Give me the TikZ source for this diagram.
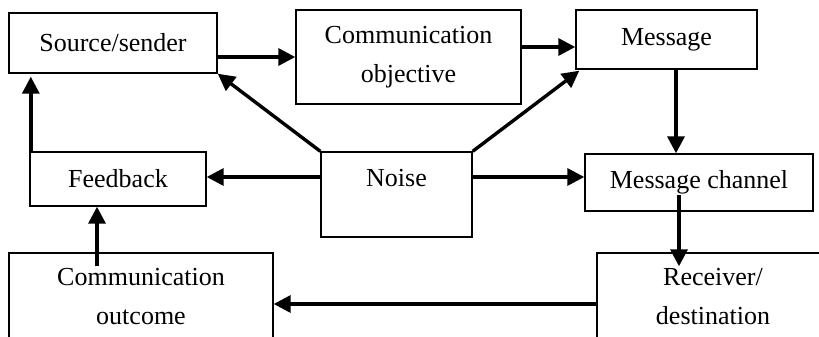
\documentclass[tikz,border=0pt]{standalone}
\usepackage{fontspec}
\setmainfont{Liberation Serif}
\usetikzlibrary{calc,arrows.meta}
\begin{document}
\begin{tikzpicture}[x=0.5pt,y=-0.5pt,
  box/.style={draw,line width=0.7pt,inner sep=0pt,align=center,
    font=\fontsize{13}{19.5}\selectfont},
  txt/.style={inner sep=0pt,align=center,font=\fontsize{13}{19.5}\selectfont},
  arr/.style={line width=1.7pt,-{Triangle[length=8.5pt,width=8.5pt]}}]
\useasboundingbox (0,0) rectangle (819,337);
\clip (0,0) rectangle (819,337);
\node[box,minimum width=104pt,minimum height=30pt] (src) at (113,43) {Source/sender};
\node[box,minimum width=112.5pt,minimum height=47pt] (obj) at (408.5,57) {Communication\\objective};
\node[box,minimum width=90.5pt,minimum height=29.5pt] (msg) at (666.5,39.5) {Message};
\node[box,minimum width=75.5pt,minimum height=42.5pt] (noise) at (396.5,194.5) {};
\node[txt] (noiset) at (396.5,178) {Noise};
\node[box,minimum width=88pt,minimum height=27pt] (fb) at (118,179) {Feedback};
\node[box,minimum width=114pt,minimum height=28.5pt] (chan) at (699,182.5) {Message channel};
\node[box,minimum width=132pt,minimum height=43.5pt] (out) at (141,296.5) {Communication\\outcome};
\node[box,minimum width=116pt,minimum height=43.5pt] (recv) at (713,296.5) {Receiver/\\destination};
% connectors
\draw[arr] (src.east |- obj) -- (obj.west);
\draw[arr] ($(obj.east)+(0,-10)$) -- ($(obj.east -| msg.west)+(0,-10)$);
\draw[arr] ($(msg.south)+(9.5,0)$) -- ($(msg.south |- chan.north)+(9.5,0)$);
\draw[arr] ($(chan.center)+(-20,12.5)$) -- ($(recv.north -| chan.center)+(-20,14)$);
\draw[arr] ($(recv.west)+(2,7.5)$) -- ($(out.east)+(0,7.5)$);
\draw[arr] ($(out.north)+(-44,14)$) -- ($(fb.south -| out.north)+(-44,0)$);
\draw[arr] ($(fb.north west)+(1.5,0)$) -- ($(src.south -| fb.north west)+(1.5,3)$);
\draw[arr] ($(noise.west)+(0,-17.5)$) -- ($(noise.west -| fb.east)+(0,-17.5)$);
\draw[arr] ($(noise.east)+(0,-17.5)$) -- ($(noise.east -| chan.west)+(0,-17.5)$);
\draw[arr] (noise.north west) -- (src.south east);
\draw[arr] (noise.north east) -- ($(msg.south west)+(4,1)$);
\end{tikzpicture}
\end{document}
